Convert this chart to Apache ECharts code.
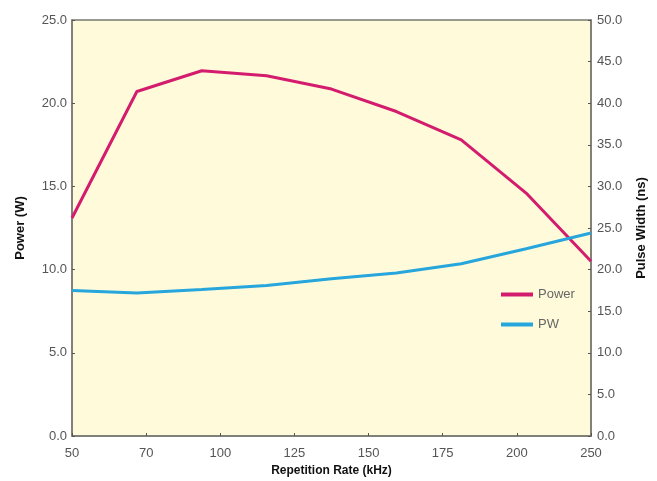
<!DOCTYPE html>
<html>
<head>
<meta charset="utf-8">
<script src="https://cdn.jsdelivr.net/npm/echarts@6/dist/echarts.min.js"></script>
<style>html,body{margin:0;padding:0;background:#fff}#c{width:657px;height:481px}</style>
</head>
<body>
<div id="c"></div>
<script>
const repRate = [50, 75, 100, 125, 150, 175, 200, 225, 250];
const power = [13.1, 20.7, 21.95, 21.65, 20.85, 19.5, 17.8, 14.6, 10.5];
const pulseWidth = [17.5, 17.2, 17.6, 18.1, 18.9, 19.6, 20.7, 22.5, 24.4];
const xTickLabels = ['50', '70', '100', '125', '150', '175', '200', '250'];
const leftTicks = [0, 5, 10, 15, 20, 25];
const rightTicks = [0, 5, 10, 15, 20, 25, 30, 35, 40, 45, 50];

const xMin = 50, xMax = 250;
const xTickPos = xTickLabels.map((_, i) => xMin + i * (xMax - xMin) / (xTickLabels.length - 1));

const font = "'Liberation Sans', Arial, sans-serif";
const chart = echarts.init(document.getElementById('c'));
chart.setOption({
  animation: false,
  grid: {
    left: 72, right: 66, top: 20, bottom: 45, outerBoundsMode: 'none', containLabel: false,
    show: true, backgroundColor: '#FFFBDA', borderColor: '#7a7a72', borderWidth: 1.5
  },
  legend: {
    orient: 'vertical', left: 496, top: 283, itemGap: 17,
    itemWidth: 32, itemHeight: 4, icon: 'rect',
    textStyle: { color: '#666', fontSize: 13, fontFamily: font },
    data: ['Power', 'PW']
  },
  xAxis: {
    type: 'value', min: xMin, max: xMax,
    name: 'Repetition Rate (kHz)', nameLocation: 'middle', nameGap: 28,
    nameTextStyle: { color: '#111', fontWeight: 'bold', fontSize: 12, fontFamily: font },
    axisLine: { show: true, lineStyle: { color: '#7a7a72', width: 1.5 } },
    axisTick: { show: true, inside: true, length: 3, customValues: xTickPos, lineStyle: { color: '#555' } },
    axisLabel: {
      color: '#555', fontSize: 13, fontFamily: font, margin: 11,
      customValues: xTickPos,
      formatter: (v) => {
        const i = xTickPos.findIndex(p => Math.abs(p - v) < 1e-6);
        return i >= 0 ? xTickLabels[i] : '';
      }
    },
    splitLine: { show: false }
  },
  yAxis: [
    {
      type: 'value', min: leftTicks[0], max: leftTicks[leftTicks.length - 1], interval: 5,
      name: 'Power (W)', nameLocation: 'middle', nameGap: 45, nameRotate: 90,
      nameTextStyle: { color: '#111', fontWeight: 'bold', fontSize: 13, fontFamily: font },
      axisLine: { show: true, lineStyle: { color: '#7a7a72', width: 1.5 } },
      axisTick: { show: true, inside: true, length: 3, lineStyle: { color: '#555' } },
      axisLabel: { color: '#555', fontSize: 13, fontFamily: font, margin: 5, formatter: v => v.toFixed(1) },
      splitLine: { show: false }
    },
    {
      type: 'value', min: rightTicks[0], max: rightTicks[rightTicks.length - 1], interval: 5,
      name: 'Pulse Width (ns)', nameLocation: 'middle', nameGap: 44, nameRotate: 90,
      nameTextStyle: { color: '#111', fontWeight: 'bold', fontSize: 13, fontFamily: font },
      axisLine: { show: true, lineStyle: { color: '#7a7a72', width: 1.5 } },
      axisTick: { show: true, inside: true, length: 3, lineStyle: { color: '#555' } },
      axisLabel: { color: '#555', fontSize: 13, fontFamily: font, margin: 6, formatter: v => v.toFixed(1) },
      splitLine: { show: false }
    }
  ],
  series: [
    {
      name: 'Power', type: 'line', yAxisIndex: 0, symbol: 'none',
      data: repRate.map((r, i) => [r, power[i]]),
      lineStyle: { color: '#D41C6E', width: 3 }, itemStyle: { color: '#D41C6E' }
    },
    {
      name: 'PW', type: 'line', yAxisIndex: 1, symbol: 'none',
      data: repRate.map((r, i) => [r, pulseWidth[i]]),
      lineStyle: { color: '#26A6DC', width: 3 }, itemStyle: { color: '#26A6DC' }
    }
  ]
});
</script>
</body>
</html>
